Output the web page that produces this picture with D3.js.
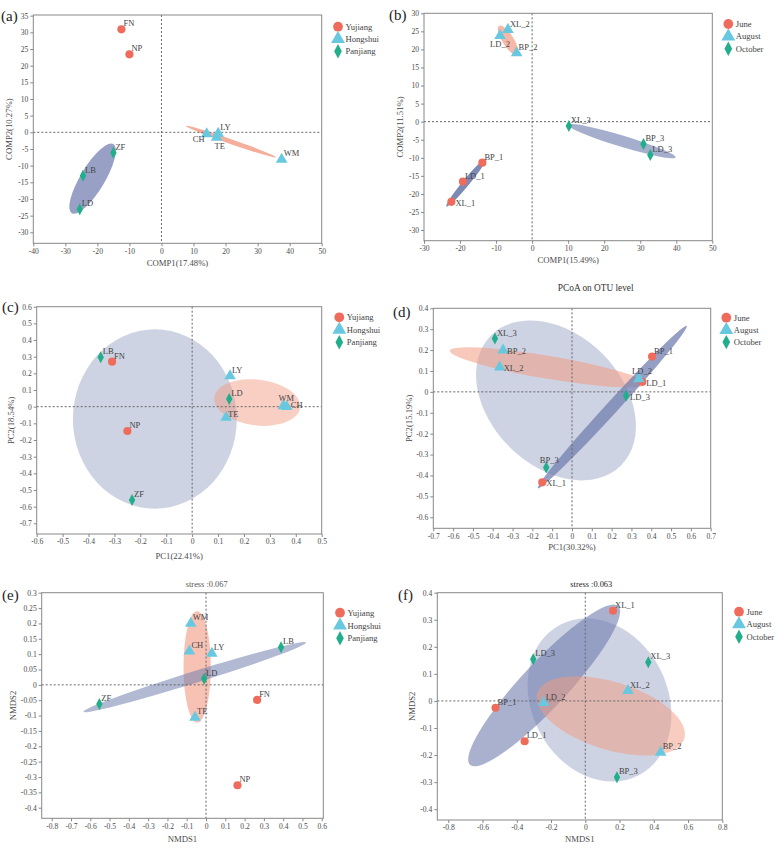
<!DOCTYPE html>
<html><head><meta charset="utf-8">
<script src="https://cdn.jsdelivr.net/npm/d3@7"></script>
<style>body{margin:0;background:#fff}text{font-family:"Liberation Serif","Times New Roman",serif}</style>
</head><body>
<svg id="c" width="778" height="852"></svg>
<script>
// ---------- groups ----------
const riverGroups = ["Yujiang", "Hongshui", "Panjiang"];
const monthGroups = ["June", "August", "October"];

// ---------- panel (a) PLS-DA by river ----------
const aNames = ["FN", "NP", "CH", "LY", "TE", "WM", "ZF", "LB", "LD"];
const aGroup = [0, 0, 1, 1, 1, 1, 2, 2, 2];
const aX = [-12.5, -10.0, 14.1, 17.7, 17.2, 37.5, -15.0, -24.5, -25.5];
const aY = [30.9, 23.4, -0.5, -0.3, -1.5, -8.1, -6.1, -13.0, -23.1];
const aLabelPos = ["ur", "ur", "l8", "ur", "b", "ur", "ur", "ur", "ur"];
const aXTicks = [-40, -30, -20, -10, 0, 10, 20, 30, 40, 50];
const aYTicks = [-30, -25, -20, -15, -10, -5, 0, 5, 10, 15, 20, 25, 30, 35];
// ellipse: group, major-axis end 1 (x,y), end 2 (x,y), minor/major ratio
const aEllGroup = [2, 1];
const aEllAxis = [[-28.0, -24.3, -15.0, -3.5, 0.30], [7.66, 1.9, 35.75, -7.5, 0.05]];

// ---------- panel (b) PLS-DA by month ----------
const bNames = ["BP_1", "LD_1", "XL_1", "XL_2", "LD_2", "BP_2", "XL_3", "BP_3", "LD_3"];
const bGroup = [0, 0, 0, 1, 1, 1, 2, 2, 2];
const bX = [-13.8, -19.2, -22.4, -6.7, -8.9, -4.3, 10.2, 30.9, 32.8];
const bY = [-11.35, -16.6, -22.2, 25.5, 23.8, 19.0, -1.2, -6.2, -9.2];
const bLabelPos = ["ur", "ur", "r", "ur", "bm", "ur", "ur", "ur", "ur"];
const bXTicks = [-30, -20, -10, 0, 10, 20, 30, 40, 50];
const bYTicks = [-30, -25, -20, -15, -10, -5, 0, 5, 10, 15, 20, 25, 30];
const bEllGroup = [0, 1, 2];
const bEllAxis = [[-23.8, -23.5, -12.9, -10.4, 0.11], [-9.2, 26.5, -4.1, 18.5, 0.33], [10.05, -0.9, 39.8, -9.9, 0.10]];

// ---------- panel (c) PCoA by river ----------
const cNames = ["LB", "FN", "NP", "ZF", "LY", "LD", "TE", "WM", "CH"];
const cGroup = [2, 0, 0, 2, 1, 2, 1, 1, 1];
const cX = [-0.353, -0.309, -0.25, -0.232, 0.146, 0.143, 0.131, 0.352, 0.365];
const cY = [0.296, 0.27, -0.146, -0.56, 0.184, 0.046, -0.065, 0.004, 0.0];
const cLabelPos = ["ur", "ur", "ur", "ur", "ur", "ur", "rt", "am", "rc"];
const cXTicks = [-0.6, -0.5, -0.4, -0.3, -0.2, -0.1, 0, 0.1, 0.2, 0.3, 0.4, 0.5];
const cYTicks = [-0.7, -0.6, -0.5, -0.4, -0.3, -0.2, -0.1, 0, 0.1, 0.2, 0.3, 0.4, 0.5, 0.6];
const cEllGroup = [2, 1];
const cEllAxis = [[-0.144, 0.464, -0.144, -0.612, 0.914], [0.085, 0.056, 0.417, -0.006, 0.53]];

// ---------- panel (d) PCoA by month ----------
const dNames = ["BP_1", "LD_1", "XL_1", "BP_2", "XL_2", "LD_2", "XL_3", "LD_3", "BP_3"];
const dGroup = [0, 0, 0, 1, 1, 1, 2, 2, 2];
const dX = [0.404, 0.355, -0.15, -0.348, -0.365, 0.338, -0.389, 0.273, -0.13];
const dY = [0.169, 0.048, -0.433, 0.2, 0.118, 0.062, 0.255, -0.019, -0.362];
const dLabelPos = ["ur", "r", "r", "r", "r", "am", "ur", "r", "am"];
const dXTicks = [-0.7, -0.6, -0.5, -0.4, -0.3, -0.2, -0.1, 0, 0.1, 0.2, 0.3, 0.4, 0.5, 0.6, 0.7];
const dYTicks = [-0.6, -0.5, -0.4, -0.3, -0.2, -0.1, 0, 0.1, 0.2, 0.3, 0.4];
const dEllGroup = [2, 1, 0];
const dEllAxis = [[-0.409, 0.270, 0.2475, -0.352, 0.716], [-0.616, 0.197, 0.373, 0.038, 0.115], [-0.172, -0.461, 0.579, 0.3155, 0.055]];

// ---------- panel (e) NMDS by river ----------
const eNames = ["FN", "NP", "WM", "CH", "LY", "TE", "LB", "LD", "ZF"];
const eGroup = [0, 0, 1, 1, 1, 1, 2, 2, 2];
const eX = [0.265, 0.163, -0.079, -0.086, 0.03, -0.057, 0.389, -0.01, -0.553];
const eY = [-0.049, -0.327, 0.2, 0.11, 0.1025, -0.106, 0.122, 0.02, -0.0625];
const eLabelPos = ["ur", "ur", "ur", "ur", "ur", "ur", "ur", "ur", "ur"];
const eXTicks = [-0.8, -0.7, -0.6, -0.5, -0.4, -0.3, -0.2, -0.1, 0, 0.1, 0.2, 0.3, 0.4, 0.5, 0.6];
const eYTicks = [-0.4, -0.35, -0.3, -0.25, -0.2, -0.15, -0.1, -0.05, 0, 0.05, 0.1, 0.15, 0.2, 0.25, 0.3];
const eEllGroup = [1, 2];
const eEllAxis = [[-0.046, 0.240, -0.046, -0.123, 0.245], [-0.636, -0.0875, 0.519, 0.138, 0.05]];

// ---------- panel (f) NMDS by month ----------
const fNames = ["XL_1", "BP_1", "LD_1", "LD_2", "XL_2", "BP_2", "LD_3", "XL_3", "BP_3"];
const fGroup = [0, 0, 0, 1, 1, 1, 2, 2, 2];
const fX = [0.162, -0.524, -0.354, -0.243, 0.249, 0.44, -0.304, 0.368, 0.185];
const fY = [0.3335, -0.025, -0.149, -0.006, 0.038, -0.19, 0.154, 0.143, -0.282];
const fLabelPos = ["ur", "ur", "ur", "ur", "ur", "ur", "ur", "ur", "ur"];
const fXTicks = [-0.8, -0.6, -0.4, -0.2, 0, 0.2, 0.4, 0.6, 0.8];
const fYTicks = [-0.4, -0.3, -0.2, -0.1, 0, 0.1, 0.2, 0.3, 0.4];
const fEllGroup = [2, 0, 1];
const fEllAxis = [[-0.146, 0.282, 0.312, -0.275, 0.80], [-0.673, -0.236, 0.193, 0.351, 0.21], [-0.280, 0.030, 0.578, -0.140, 0.44]];

// ---------- styling / layout ----------
const markerColor = ["#ef6c5c", "#68c8df", "#22ae8a"];
const BLUE = "#707dae", SALMON = "#f29a82";

const panels = [
  {tag: "(a)", tagPos: [1, 21], names: aNames, group: aGroup, x: aX, y: aY, lab: aLabelPos, xt: aXTicks, yt: aYTicks,
   eg: aEllGroup, ea: aEllAxis, eFill: [BLUE, SALMON], eOp: [0.72, 0.8], legend: riverGroups,
   box: {l: 33.3, r: 321.7, t: 15, b: 243.3}, xd: [-40, 50], yd: [-33.3, 35.2],
   xTitle: "COMP1(17.48%)", yTitle: "COMP2(10.27%)", xTitleY: 266, yTitleX: 12, legPos: [338, 26.7, 12.3]},
  {tag: "(b)", tagPos: [389, 20], names: bNames, group: bGroup, x: bX, y: bY, lab: bLabelPos, xt: bXTicks, yt: bYTicks,
   eg: bEllGroup, ea: bEllAxis, eFill: [BLUE, SALMON, BLUE], eOp: [0.9, 0.7, 0.62], legend: monthGroups,
   box: {l: 424, r: 712.3, t: 13.3, b: 240.7}, xd: [-30, 50], yd: [-32.96, 30],
   xTitle: "COMP1(15.49%)", yTitle: "COMP2(11.51%)", xTitleY: 263, yTitleX: 403, legPos: [728.3, 24, 12.4]},
  {tag: "(c)", tagPos: [2, 312], names: cNames, group: cGroup, x: cX, y: cY, lab: cLabelPos, xt: cXTicks, yt: cYTicks,
   eg: cEllGroup, ea: cEllAxis, eFill: [BLUE, SALMON], eOp: [0.34, 0.48], legend: riverGroups,
   box: {l: 36.7, r: 321.7, t: 306.7, b: 534}, xd: [-0.6, 0.5], yd: [-0.764, 0.6],
   xTitle: "PC1(22.41%)", yTitle: "PC2(18.54%)", xTitleY: 559, yTitleX: 14, legPos: [339.3, 317.3, 12.5]},
  {tag: "(d)", tagPos: [393, 317], names: dNames, group: dGroup, x: dX, y: dY, lab: dLabelPos, xt: dXTicks, yt: dYTicks,
   eg: dEllGroup, ea: dEllAxis, eFill: [BLUE, SALMON, BLUE], eOp: [0.34, 0.54, 0.74], legend: monthGroups,
   box: {l: 433.3, r: 710.7, t: 308.3, b: 528.3}, xd: [-0.7, 0.7], yd: [-0.653, 0.4],
   xTitle: "PC1(30.32%)", yTitle: "PC2(15.19%)", xTitleY: 550, yTitleX: 412, legPos: [726.3, 317.7, 12.2],
   title: "PCoA on OTU level", titlePos: [595.7, 291]},
  {tag: "(e)", tagPos: [2, 600], names: eNames, group: eGroup, x: eX, y: eY, lab: eLabelPos, xt: eXTicks, yt: eYTicks,
   eg: eEllGroup, ea: eEllAxis, eFill: [SALMON, BLUE], eOp: [0.6, 0.54], legend: riverGroups,
   box: {l: 41.7, r: 323.3, t: 592.7, b: 818.3}, xd: [-0.852, 0.608], yd: [-0.4345, 0.3],
   xTitle: "NMDS1", yTitle: "NMDS2", xTitleY: 842, yTitleX: 16, legPos: [340, 612.7, 12.8],
   stress: "stress :0.067", stressPos: [206.7, 587], stressColor: "#555"},
  {tag: "(f)", tagPos: [398, 600], names: fNames, group: fGroup, x: fX, y: fY, lab: fLabelPos, xt: fXTicks, yt: fYTicks,
   eg: fEllGroup, ea: fEllAxis, eFill: [BLUE, BLUE, SALMON], eOp: [0.34, 0.6, 0.51], legend: monthGroups,
   box: {l: 437.3, r: 722.3, t: 592.7, b: 820}, xd: [-0.864, 0.8], yd: [-0.44, 0.4],
   xTitle: "NMDS1", yTitle: "NMDS2", xTitleY: 842, yTitleX: 415, legPos: [739, 611.7, 12.5],
   stress: "stress :0.063", stressPos: [591.3, 587], stressColor: "#222"}
];

const labelStyle = {
  ur: ["start", 2, -3], r: ["start", 4, 4], rc: ["start", 4, 1], rt: ["start", 2, -1],
  l8: ["end", -2, 8], b: ["start", -2, 12], bm: ["middle", 0, 11], am: ["middle", 3, -5]
};

const fmt = d => String(+(+d).toFixed(2));
const svg = d3.select("#c");

function markerPath(g, big) {
  const k = big ? 1.2 : 1;
  if (g === 0) return d3.symbol(d3.symbolCircle, 52 * k * k)();
  if (g === 1) return d3.symbol(d3.symbolTriangle, 58 * k * k)();
  const w = 3.2 * k, h = 6 * k;
  return `M0,${-h}L${w},0L0,${h}L${-w},0Z`;
}

panels.forEach((p, pi) => {
  const g = svg.append("g");
  const B = p.box;
  const x = d3.scaleLinear().domain(p.xd).range([B.l, B.r]);
  const y = d3.scaleLinear().domain(p.yd).range([B.b, B.t]);

  const clipId = "clip" + pi;
  g.append("clipPath").attr("id", clipId).append("rect")
    .attr("x", B.l).attr("y", B.t).attr("width", B.r - B.l).attr("height", B.b - B.t);

  // ellipses
  const eg = g.append("g").attr("clip-path", `url(#${clipId})`);
  p.ea.forEach((e, i) => {
    const x1 = x(e[0]), y1 = y(e[1]), x2 = x(e[2]), y2 = y(e[3]);
    const cx = (x1 + x2) / 2, cy = (y1 + y2) / 2;
    const a = Math.hypot(x2 - x1, y2 - y1) / 2, b = a * e[4];
    const ang = Math.atan2(y2 - y1, x2 - x1) * 180 / Math.PI;
    eg.append("ellipse").attr("cx", cx).attr("cy", cy).attr("rx", a).attr("ry", b)
      .attr("transform", `rotate(${ang},${cx},${cy})`)
      .attr("fill", p.eFill[i]).attr("fill-opacity", p.eOp[i]);
  });

  // zero dotted lines
  g.append("line").attr("x1", x(0)).attr("x2", x(0)).attr("y1", B.t).attr("y2", B.b)
    .attr("stroke", "#666").attr("stroke-width", 1).attr("stroke-dasharray", "2,2");
  g.append("line").attr("x1", B.l).attr("x2", B.r).attr("y1", y(0)).attr("y2", y(0))
    .attr("stroke", "#666").attr("stroke-width", 1).attr("stroke-dasharray", "2,2");

  // frame
  g.append("rect").attr("x", B.l).attr("y", B.t).attr("width", B.r - B.l).attr("height", B.b - B.t)
    .attr("fill", "none").attr("stroke", "#888").attr("stroke-width", 1);

  // axes
  const ax = g.append("g").attr("transform", `translate(0,${B.b})`)
    .call(d3.axisBottom(x).tickValues(p.xt).tickSize(3).tickPadding(2).tickFormat(fmt));
  const ay = g.append("g").attr("transform", `translate(${B.l},0)`)
    .call(d3.axisLeft(y).tickValues(p.yt).tickSize(3).tickPadding(2).tickFormat(fmt));
  [ax, ay].forEach(a => {
    a.select(".domain").remove();
    a.selectAll("line").attr("stroke", "#888");
    a.selectAll("text").attr("font-family", "Liberation Serif").attr("font-size", 7.6).attr("fill", "#4a4a4a");
  });

  // points
  const pts = g.append("g");
  p.names.forEach((n, i) => {
    const px = x(p.x[i]), py = y(p.y[i]), gr = p.group[i];
    pts.append("path").attr("d", markerPath(gr)).attr("transform", `translate(${px},${py})`)
      .attr("fill", markerColor[gr]);
  });
  p.names.forEach((n, i) => {
    const px = x(p.x[i]), py = y(p.y[i]);
    const s = labelStyle[p.lab[i]];
    pts.append("text").attr("x", px + s[1]).attr("y", py + s[2]).attr("text-anchor", s[0])
      .attr("font-size", 8.5).attr("fill", "#444").text(n);
  });

  // axis titles
  g.append("text").attr("x", (B.l + B.r) / 2).attr("y", p.xTitleY).attr("text-anchor", "middle")
    .attr("font-size", 8.7).attr("fill", "#4a4a4a").text(p.xTitle);
  g.append("text").attr("transform", `translate(${p.yTitleX},${(B.t + B.b) / 2}) rotate(-90)`)
    .attr("text-anchor", "middle").attr("font-size", 8.7).attr("fill", "#4a4a4a").text(p.yTitle);

  // legend
  const [lx, ly, ld] = p.legPos;
  p.legend.forEach((name, i) => {
    g.append("path").attr("d", markerPath(i, true)).attr("transform", `translate(${lx},${ly + i * ld})`)
      .attr("fill", markerColor[i]);
    g.append("text").attr("x", lx + 7.5).attr("y", ly + i * ld + 3).attr("font-size", 8.6)
      .attr("fill", "#444").text(name);
  });

  // panel tag
  g.append("text").attr("x", p.tagPos[0]).attr("y", p.tagPos[1]).attr("font-size", 15)
    .attr("fill", "#222").text(p.tag);

  if (p.title) {
    g.append("text").attr("x", p.titlePos[0]).attr("y", p.titlePos[1]).attr("text-anchor", "middle")
      .attr("font-family", "Liberation Sans, Arial, sans-serif").attr("font-size", 9.3)
      .attr("fill", "#333").text(p.title);
  }
  if (p.stress) {
    g.append("text").attr("x", p.stressPos[0]).attr("y", p.stressPos[1]).attr("text-anchor", "middle")
      .attr("font-size", 8.4).attr("fill", p.stressColor).text(p.stress);
  }
});
</script>
</body></html>
